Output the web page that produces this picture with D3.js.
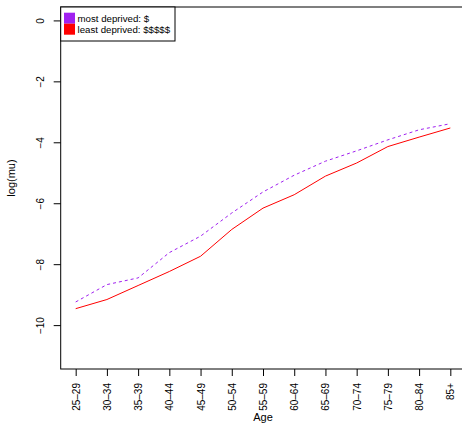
<!DOCTYPE html>
<html>
<head>
<meta charset="utf-8">
<script src="https://cdn.jsdelivr.net/npm/d3@7"></script>
<style>
  body { margin: 0; background: #fff; }
  text { font-family: "Liberation Sans", Arial, Helvetica, sans-serif; fill: #000; }
</style>
</head>
<body>
<svg id="chart" width="462" height="425"></svg>
<script>
// age groups along the x axis
var ages = ["25–29", "30–34", "35–39", "40–44", "45–49", "50–54", "55–59",
            "60–64", "65–69", "70–74", "75–79", "80–84", "85+"];

// log(mu) by age
var mostDeprived  = [-9.24, -8.67, -8.45, -7.62, -7.08, -6.32, -5.63, -5.08, -4.62, -4.28, -3.92, -3.59, -3.39];
var leastDeprived = [-9.46, -9.16, -8.70, -8.24, -7.74, -6.86, -6.16, -5.72, -5.11, -4.68, -4.14, -3.83, -3.53];

var yTicks = [0, -2, -4, -6, -8, -10];
var legendLabels = ["most deprived: $", "least deprived: $$$$$"];
var colors = ["#A020F0", "#FF0000"];

var svg = d3.select("#chart");

// plot region (R style: 4% padding around the limits)
var plotL = 60.7, plotR = 465.3, plotT = 7, plotB = 369;

var x = d3.scaleLinear().domain([0.52, 13.48]).range([plotL, plotR]);
var y = d3.scaleLinear().domain([-11.44, 0.44]).range([plotB, plotT]);

// box round the plot
svg.append("rect")
    .attr("x", plotL).attr("y", plotT)
    .attr("width", plotR - plotL).attr("height", plotB - plotT)
    .attr("fill", "none").attr("stroke", "#000").attr("stroke-width", 1);

// y axis
var yAxis = svg.append("g")
    .attr("transform", "translate(" + plotL + ",0)")
    .call(d3.axisLeft(y).tickValues(yTicks).tickSize(7));
yAxis.select(".domain").remove();
yAxis.selectAll(".tick line").attr("stroke", "#000");
yAxis.selectAll(".tick text")
    .attr("x", null).attr("dy", null)
    .attr("transform", "translate(-20,0) rotate(-90)")
    .attr("text-anchor", "middle")
    .attr("dy", "0.35em")
    .style("font-size", "10px")
    .style("font-family", "Liberation Sans, Arial, sans-serif");

// x axis
var xAxis = svg.append("g")
    .attr("transform", "translate(0," + plotB + ")")
    .call(d3.axisBottom(x).tickValues(d3.range(1, ages.length + 1)).tickSize(7)
        .tickFormat(function(d) { return ages[d - 1]; }));
xAxis.select(".domain").remove();
xAxis.selectAll(".tick line").attr("stroke", "#000");
xAxis.selectAll(".tick text")
    .attr("x", null).attr("y", null).attr("dy", null)
    .attr("transform", "translate(0,14) rotate(-90)")
    .attr("text-anchor", "end")
    .attr("dy", "0.35em")
    .style("font-size", "10px")
    .style("font-family", "Liberation Sans, Arial, sans-serif");

// axis titles
svg.append("text")
    .attr("x", (plotL + plotR) / 2).attr("y", 421)
    .attr("text-anchor", "middle")
    .style("font-size", "11px")
    .text("Age");

svg.append("text")
    .attr("transform", "translate(15,178) rotate(-90)")
    .attr("text-anchor", "middle")
    .style("font-size", "11px")
    .text("log(mu)");

// lines
var line = d3.line()
    .x(function(d, i) { return x(i + 1); })
    .y(function(d) { return y(d); });

svg.append("path")
    .datum(mostDeprived)
    .attr("d", line)
    .attr("fill", "none")
    .attr("stroke", colors[0])
    .attr("stroke-width", 1)
    .attr("stroke-dasharray", "3,3");

svg.append("path")
    .datum(leastDeprived)
    .attr("d", line)
    .attr("fill", "none")
    .attr("stroke", colors[1])
    .attr("stroke-width", 1);

// legend
var legend = svg.append("g");
legend.append("rect")
    .attr("x", plotL).attr("y", plotT)
    .attr("width", 114.3).attr("height", 34)
    .attr("fill", "#fff").attr("stroke", "#000").attr("stroke-width", 1);

var items = legend.selectAll(".item")
    .data(legendLabels)
    .enter().append("g")
    .attr("transform", function(d, i) { return "translate(0," + (i * 11) + ")"; });

items.append("rect")
    .attr("x", 64).attr("y", 12.7)
    .attr("width", 11).attr("height", 11)
    .attr("fill", function(d, i) { return colors[i]; });

items.append("text")
    .attr("x", 77.5).attr("y", 21.5)
    .style("font-size", "9.7px")
    .text(function(d) { return d; });
</script>
</body>
</html>
